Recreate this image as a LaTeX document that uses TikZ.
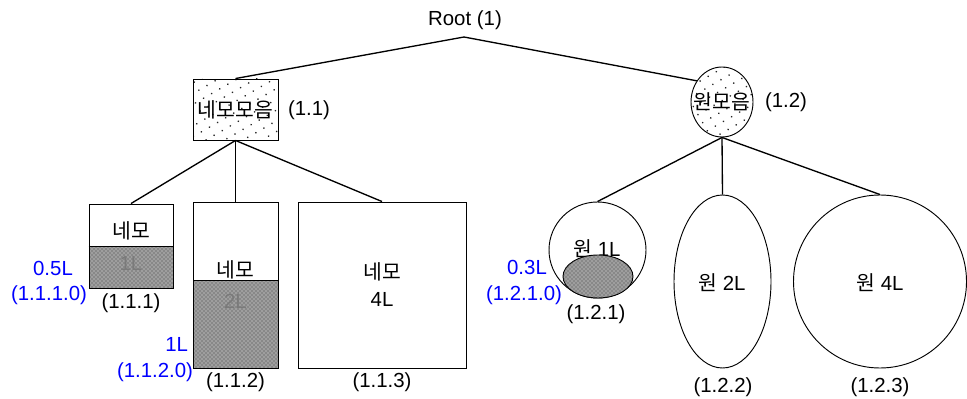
\documentclass[tikz,border=0pt]{standalone}
\usepackage{fontspec}
\setmainfont{Liberation Sans}
\newfontfamily\kr{Noto Sans CJK KR}
\usetikzlibrary{shapes.geometric,patterns,patterns.meta}
\begin{document}
\begin{tikzpicture}[x=0.75pt,y=-0.75pt,
  font=\fontsize{15.3}{18}\selectfont,
  edge/.style={draw, line width=1pt},
  outline/.style={draw, line width=0.7pt, inner sep=0pt},
  oval/.style={outline, ellipse},
  sparse/.style={pattern={Dots[distance=7pt, radius=0.7pt, angle=30]}, pattern color=black!85},
  dense/.style={fill=black!38, postaction={pattern=crosshatch dots, pattern color=black!75}},
  txt/.style={inner sep=0pt, outer sep=0pt},
  faint/.style={txt, text=black!52},
  vol/.style={txt, text=blue, align=center},
]
\useasboundingbox (0,0) rectangle (967,399);

% root
\node[txt] (root) at (465,20) {Root (1)};
\coordinate (rootfoot) at (464,37);

% second level: rectangle group and circle group
\node[outline, rectangle, minimum width=85*0.75pt, minimum height=61*0.75pt, sparse] (n11) at (235.5,109.5) {};
\node[txt] (t11) at (235.5,109.5) {\kr 네모모음};
\node[txt] (l11) at (309,110) {(1.1)};

\node[oval, minimum width=62*0.75pt, minimum height=70*0.75pt, sparse] (n12) at (722,102) {};
\node[txt] (t12) at (722,102) {\kr 원모음};
\node[txt] (l12) at (786,102) {(1.2)};

% filled lower parts of the two partly filled boxes
\fill[dense] (89,246) rectangle (173,288);
\fill[dense] (193,280) rectangle (278,368);

% rectangles
\node[outline, rectangle, minimum width=84*0.75pt, minimum height=84*0.75pt] (n111) at (131,246) {};
\draw[line width=0.7pt] (n111.west) -- (n111.east);
\node[txt] (t111) at (131,231) {\kr 네모};
\node[faint] (f111) at (131,263) {1L};
\node[txt] (l111) at (131,303) {(1.1.1)};
\node[vol] (v111) at (53,268) {0.5L};
\node[vol] (c111) at (49,295) {(1.1.1.0)};

\node[outline, rectangle, minimum width=85*0.75pt, minimum height=166*0.75pt] (n112) at (235.5,285) {};
\draw[line width=0.7pt] (193,280) -- (278,280);
\node[txt] (t112) at (235.5,270) {\kr 네모};
\node[faint] (f112) at (235.5,301) {2L};
\node[txt] (l112) at (235.5,382) {(1.1.2)};
\node[vol, anchor=east] (v112) at (188,344) {1L};
\node[vol, anchor=east] (c112) at (193,372) {(1.1.2.0)};

\node[outline, rectangle, minimum width=168*0.75pt, minimum height=166*0.75pt] (n113) at (382,285) {};
\node[txt] (t113) at (382,272) {\kr 네모};
\node[txt] (u113) at (382,299) {4L};
\node[txt] (l113) at (382,382) {(1.1.3)};

% circles and ellipses
\node[oval, minimum width=97*0.75pt, minimum height=96*0.75pt] (n121) at (597.5,250) {};
\node[txt] (t121) at (597,249) {{\kr 원} 1L};
\node[oval, minimum width=70*0.75pt, minimum height=43*0.75pt, dense] (n121s) at (598,276.5) {};
\node[txt] (l121) at (596,314) {(1.2.1)};
\node[vol] (v121) at (527,267) {0.3L};
\node[vol] (c121) at (524,295) {(1.2.1.0)};

\node[oval, minimum width=97*0.75pt, minimum height=173*0.75pt] (n122) at (722.5,281.5) {};
\node[txt] (t122) at (722,283) {{\kr 원} 2L};
\node[txt] (l122) at (723,387) {(1.2.2)};

\node[oval, minimum width=173*0.75pt, minimum height=173*0.75pt] (n123) at (880,281.5) {};
\node[txt] (t123) at (880,283) {{\kr 원} 4L};
\node[txt] (l123) at (880,387) {(1.2.3)};

% connectors
\draw[edge] (rootfoot) -- (n11.north);
\draw[edge] (rootfoot) -- (n12.140);
\draw[edge] (n11.south) -- (n111.north);
\draw[edge] (n11.south) -- (n112.north);
\draw[edge] (n11.south) -- (n113.north);
\draw[edge] (n12.south) -- (n121.north);
\draw[edge] (n12.south) -- (n122.north);
\draw[edge] (n12.south) -- (n123.north);
\end{tikzpicture}
\end{document}
